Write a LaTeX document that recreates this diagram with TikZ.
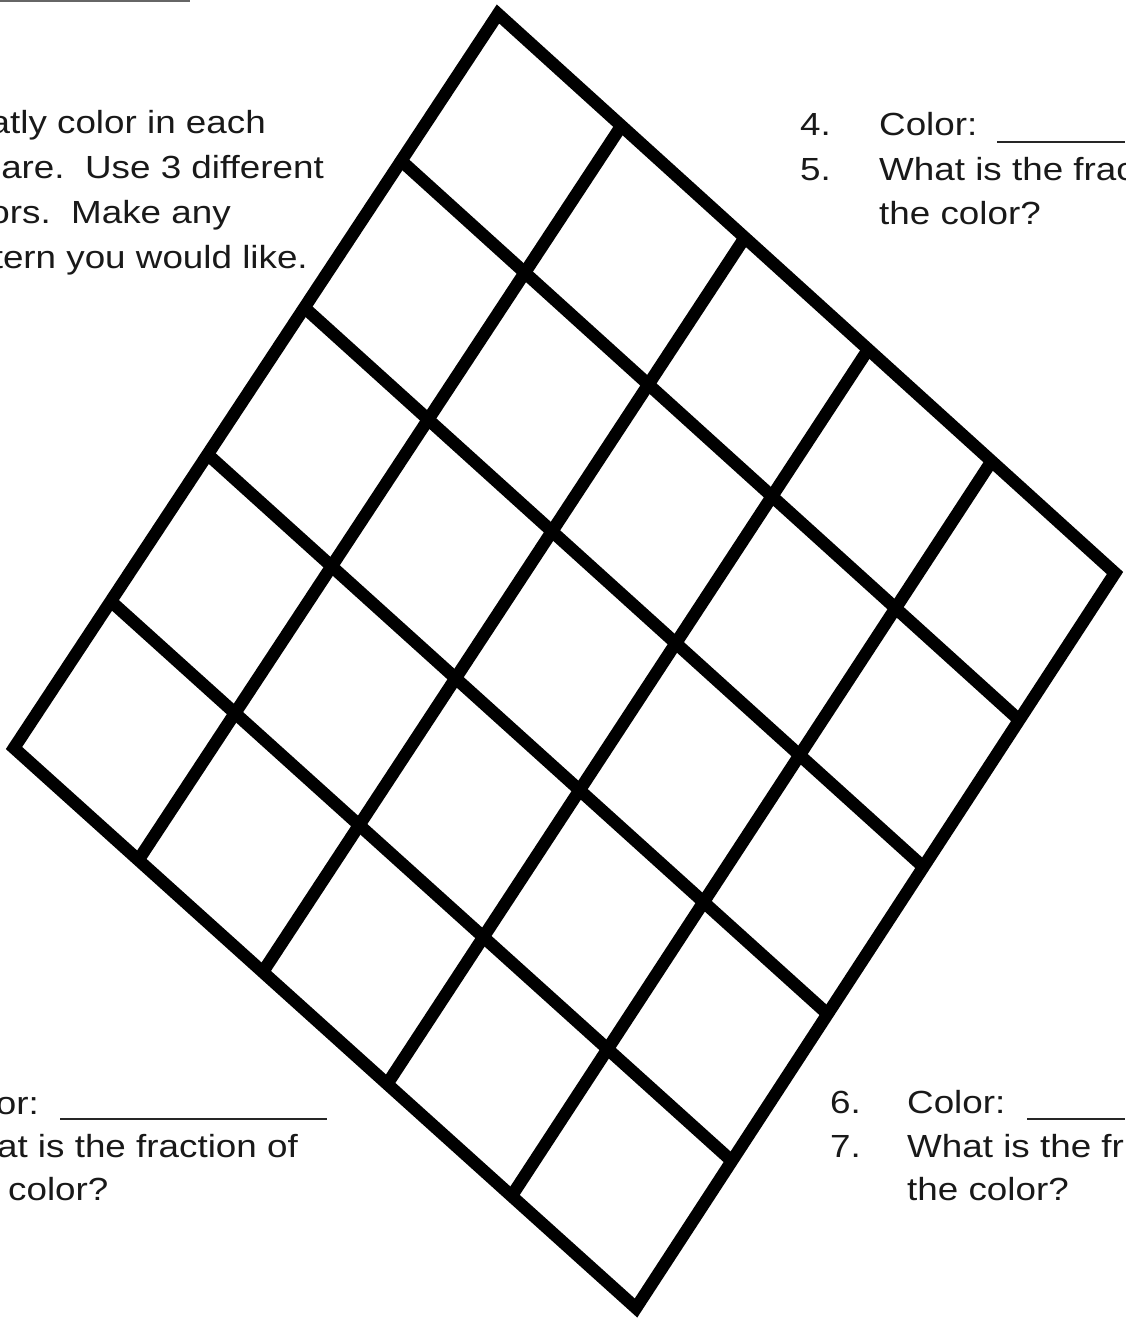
\documentclass[tikz,border=0pt]{standalone}
\usepackage{fontspec}
\setmainfont[FakeStretch=1.15]{Liberation Sans}
\usetikzlibrary{calc}
\frenchspacing
\begin{document}
\begin{tikzpicture}[x=1pt,y=-1pt,
  gridline/.style={line width=12.5pt, line join=miter, black},
  txt/.style={anchor=base west, inner sep=0pt, font=\fontsize{32}{45}\selectfont, text=black!90},
  txtr/.style={txt, anchor=base east},
  blank/.style={line width=1.8pt, black!85}]
\useasboundingbox (0,0) rectangle (1125,1320);
% thin line at top left
\coordinate (tl0) at (0,0.8);
\coordinate (tl1) at (190,0.8);
\draw[black!60, line width=1.6pt] (tl0) -- (tl1);
% grid corners
\coordinate (T) at (498,14);
\coordinate (R) at (1115,573);
\coordinate (B) at (636,1308);
\coordinate (L) at (14,748);
\foreach \k in {1,...,4} {
  \draw[gridline] ($(T)!\k/5!(R)$) -- ($(L)!\k/5!(B)$);
  \draw[gridline] ($(T)!\k/5!(L)$) -- ($(R)!\k/5!(B)$);
}
\draw[gridline] (T) -- (R) -- (B) -- (L) -- cycle;
% top-left instructions
\node[txtr] (i1) at (266,133) {atly color in each};
\node[txtr] (i2) at (324,178) {are.\ \ Use 3 different};
\node[txtr] (i3) at (231,223) {ors.\ \ Make any};
\node[txtr] (i4) at (308,268) {tern you would like.};
% top-right questions
\node[txt] (n4) at (800,135) {4.};
\node[txt] (q4) at (879,135) {Color:};
\coordinate (u4a) at (997,142);
\coordinate (u4b) at (1125,142);
\draw[blank] (u4a) -- (u4b);
\node[txt] (n5) at (800,180) {5.};
\node[txt] (q5) at (879,180) {What is the frac};
\node[txt] (q5b) at (879,224) {the color?};
% bottom-left questions
\node[txtr] (bl1) at (39,1114) {or:};
\coordinate (ubla) at (60,1119);
\coordinate (ublb) at (327,1119);
\draw[blank] (ubla) -- (ublb);
\node[txtr] (bl2) at (298,1157) {at is the fraction of};
\node[txt] (bl3) at (8,1200) {color?};
% bottom-right questions
\node[txt] (n6) at (830,1113) {6.};
\node[txt] (q6) at (907,1113) {Color:};
\coordinate (u6a) at (1027,1119);
\coordinate (u6b) at (1125,1119);
\draw[blank] (u6a) -- (u6b);
\node[txt] (n7) at (830,1157) {7.};
\node[txt] (q7) at (907,1157) {What is the fr};
\node[txt] (q7b) at (907,1200) {the color?};
\end{tikzpicture}
\end{document}
